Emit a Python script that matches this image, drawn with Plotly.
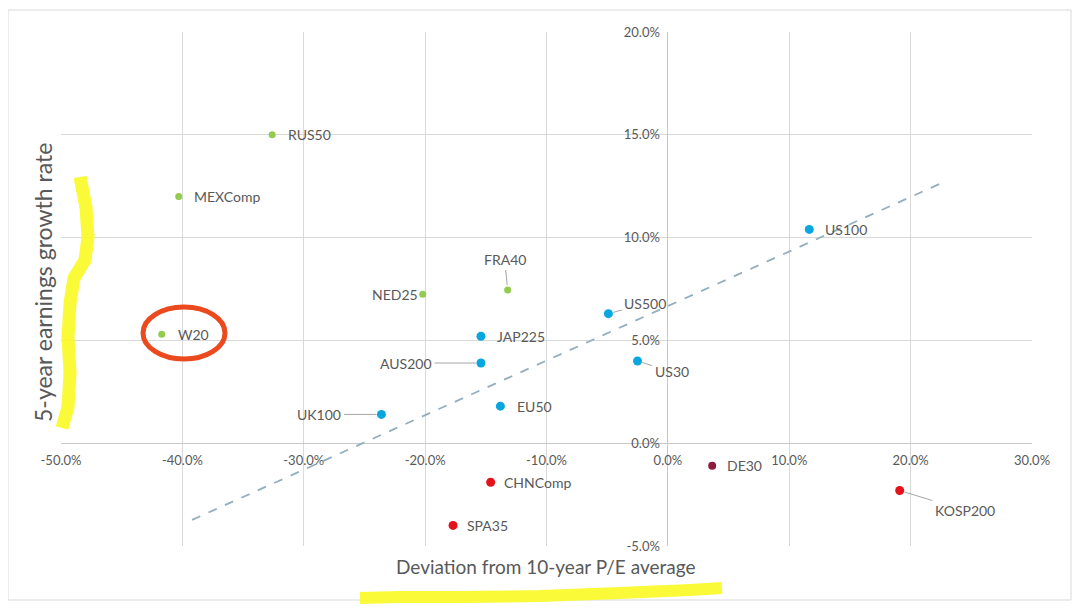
import plotly.graph_objects as go

# ---------------- data ----------------
names = ["RUS50", "MEXComp", "W20", "NED25", "FRA40",
         "JAP225", "AUS200", "UK100", "EU50", "US500", "US30", "US100",
         "DE30", "CHNComp", "SPA35", "KOSP200"]
pe_deviation = [-32.6, -40.3, -41.7, -20.2, -13.2,
                -15.4, -15.4, -23.6, -13.8, -4.9, -2.5, 11.65,
                3.65, -14.6, -17.7, 19.1]
growth_rate = [15.0, 12.0, 5.3, 7.25, 7.45,
               5.2, 3.9, 1.4, 1.8, 6.3, 4.0, 10.4,
               -1.1, -1.9, -4.0, -2.3]
group = ["green", "green", "green", "green", "green",
         "blue", "blue", "blue", "blue", "blue", "blue", "blue",
         "maroon", "red", "red", "red"]

trend_x = [-39.2, 22.95]
trend_y = [-3.73, 12.76]

x_tick_vals = [-50, -40, -30, -20, -10, 0, 10, 20, 30]
x_tick_text = ["-50.0%", "-40.0%", "-30.0%", "-20.0%", "-10.0%", "0.0%", "10.0%", "20.0%", "30.0%"]
y_tick_vals = [-5, 0, 5, 10, 15, 20]
y_tick_text = ["-5.0%", "0.0%", "5.0%", "10.0%", "15.0%", "20.0%"]

x_title = "Deviation from 10-year P/E average"
y_title = "5-year earnings growth rate"

# ---------------- styles ----------------
FONT = "Lato"
TXT = "#595959"
GRID = "#D9D9D9"
colors = {"green": "#92CB4E", "blue": "#0AA6E0", "red": "#E3121B", "maroon": "#8E1B3E"}
sizes = {"green": 7, "blue": 9, "red": 9, "maroon": 8}

# label placement (pixel offsets)
label_layout = {
    "RUS50": dict(anchor="left", dx=14),
    "MEXComp": dict(anchor="left", dx=13),
    "W20": dict(anchor="left", dx=14),
    "NED25": dict(anchor="right", dx=-3),
    "FRA40": dict(ax=-3, ay=-31),
    "JAP225": dict(anchor="left", dx=14),
    "AUS200": dict(ax=-75, ay=0),
    "UK100": dict(ax=-62, ay=0),
    "EU50": dict(anchor="left", dx=15),
    "US500": dict(ax=37, ay=-10),
    "US30": dict(ax=34, ay=11),
    "US100": dict(anchor="left", dx=14),
    "DE30": dict(anchor="left", dx=13),
    "CHNComp": dict(anchor="left", dx=11),
    "SPA35": dict(anchor="left", dx=12),
    "KOSP200": dict(ax=65, ay=20),
}

# page body adds an 8px offset; figure sized to fit the window
OFF = 8
W, H = 1064, 596
ML, MR, MT, MB = 53, 40, 24, 58
PW, PH = W - ML - MR, H - MT - MB


def px(x):
    return (x - OFF - ML) / PW


def py(y):
    return (H - MB - (y - OFF)) / PH


fig = go.Figure()

# trend line
fig.add_trace(go.Scatter(x=trend_x, y=trend_y, mode="lines",
                         line=dict(color="#93AEBE", width=1.8, dash="dash"),
                         hoverinfo="skip", showlegend=False))

for g in ["green", "blue", "maroon", "red"]:
    idx = [i for i, v in enumerate(group) if v == g]
    fig.add_trace(go.Scatter(
        x=[pe_deviation[i] for i in idx],
        y=[growth_rate[i] for i in idx],
        text=[names[i] for i in idx],
        mode="markers",
        marker=dict(color=colors[g], size=sizes[g], line=dict(width=0)),
        showlegend=False,
        hovertemplate="%{text}: %{x:.1f}%, %{y:.1f}%<extra></extra>",
    ))

annotations = []
for n, x, y in zip(names, pe_deviation, growth_rate):
    s = label_layout[n]
    if "ax" in s:
        annotations.append(dict(x=x, y=y, xref="x", yref="y", text=n, showarrow=True,
                                ax=s["ax"], ay=s["ay"], arrowhead=0, arrowwidth=1,
                                arrowcolor="#A6A6A6", standoff=5, startstandoff=1,
                                font=dict(family=FONT, size=14, color=TXT)))
    else:
        annotations.append(dict(x=x, y=y, xref="x", yref="y", text=n, showarrow=False,
                                xanchor=s["anchor"], xshift=s["dx"], yanchor="middle",
                                font=dict(family=FONT, size=14, color=TXT)))

annotations.append(dict(x=px(545), y=py(566), xref="paper", yref="paper", text=x_title,
                        showarrow=False, xanchor="center", yanchor="middle",
                        font=dict(family=FONT, size=19, color=TXT)))
annotations.append(dict(x=px(43), y=py(283), xref="paper", yref="paper", text=y_title,
                        showarrow=False, xanchor="center", yanchor="middle", textangle=-90,
                        font=dict(family=FONT, size=23, color=TXT)))


def path_from(points):
    pts = [(px(a), py(b)) for a, b in points]
    d = "M %.4f,%.4f" % pts[0]
    for p in pts[1:]:
        d += " L %.4f,%.4f" % p
    return d


yellow_left = [(80, 177), (86, 207), (88, 237), (85, 260), (74, 278), (70, 303),
               (68, 337), (70, 373), (68, 407), (62, 428)]
yellow_bottom = [(360, 598), (400, 597), (460, 597), (540, 596), (620, 593), (690, 590), (722, 588)]

shapes = [
    dict(type="rect", xref="paper", yref="paper", x0=px(8), x1=px(1071), y0=py(600), y1=py(10),
         line=dict(color="#D9D9D9", width=1), layer="below"),
    dict(type="path", xref="paper", yref="paper", path=path_from(yellow_left),
         line=dict(color="rgba(250,250,40,0.92)", width=13)),
    dict(type="path", xref="paper", yref="paper", path=path_from(yellow_bottom),
         line=dict(color="rgba(250,250,40,0.92)", width=12)),
    dict(type="circle", xref="paper", yref="paper", x0=px(143), x1=px(225), y0=py(359), y1=py(307),
         line=dict(color="#EB4A1E", width=5)),
]

fig.update_layout(
    width=W, height=H,
    margin=dict(l=ML, r=MR, t=MT, b=MB),
    paper_bgcolor="white", plot_bgcolor="white",
    annotations=annotations, shapes=shapes,
    font=dict(family=FONT, size=13, color=TXT),
    xaxis=dict(range=[-50, 30], tickvals=x_tick_vals, ticktext=x_tick_text,
               showgrid=True, gridcolor=GRID, gridwidth=1,
               zeroline=True, zerolinecolor="#C9C9C9", zerolinewidth=1,
               showline=False, ticks="", anchor="free", position=0.2,
               ticklabelstandoff=8, tickfont=dict(family=FONT, size=13, color=TXT),
               fixedrange=True),
    yaxis=dict(range=[-5, 20], tickvals=y_tick_vals, ticktext=y_tick_text,
               showgrid=True, gridcolor=GRID, gridwidth=1,
               zeroline=True, zerolinecolor="#C9C9C9", zerolinewidth=1,
               showline=False, ticks="", anchor="free", position=0.625,
               ticklabelstandoff=8, tickfont=dict(family=FONT, size=13, color=TXT),
               fixedrange=True),
)

fig.write_html("out.html")
